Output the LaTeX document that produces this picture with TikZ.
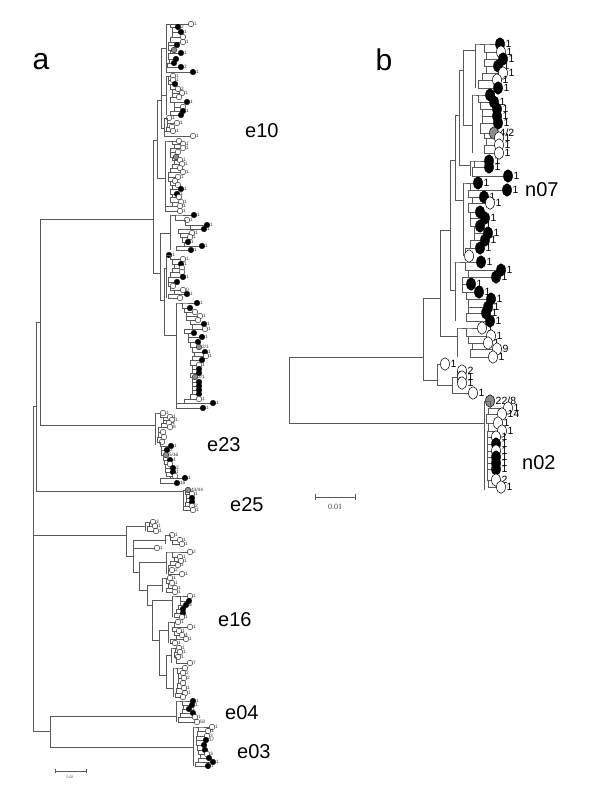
\documentclass[tikz,border=0pt]{standalone}
\usepackage{fontspec}
\setmainfont{Liberation Sans}
\newfontfamily\serifb{Liberation Serif}
\usetikzlibrary{shapes.geometric}
\definecolor{cw}{gray}{1}
\definecolor{cb}{gray}{0}
\definecolor{cg}{gray}{0.55}
\newcommand\grp[4]{%
  \foreach \Lx/\Ly/\Lt/\Ll/\Ls [remember=\Ly as \Lpy (initially #2), remember=\Ls as \Lps (initially #1)] in {#4}{
    \draw[br] (\Lps,\Lpy) -- (\Ls,\Lpy) -- (\Ls,\Ly) -- (\Lx,\Ly);
    \node[#3leaf, fill=\Lt] at (\Lx,\Ly) {};
    \node[#3lab] at (\Lx,\Ly) {\Ll};
  }%
}
\begin{document}
\begin{tikzpicture}[x=1pt,y=-1pt,
  br/.style={draw=black!65, line width=0.55pt},
  aleaf/.style={circle, draw=black, line width=0.35pt, minimum size=5.6pt, inner sep=0pt},
  alab/.style={anchor=west, xshift=2.8pt, inner sep=0pt, font=\fontsize{4.8}{5}\selectfont, text=black!80},
  bleaf/.style={ellipse, draw=black, line width=0.5pt, minimum width=9pt, minimum height=12.5pt, inner sep=0pt},
  blab/.style={anchor=west, xshift=5.5pt, inner sep=0pt, font=\fontsize{10.5}{11}\selectfont},
  clade/.style={anchor=west, inner sep=0pt, font=\fontsize{20}{20}\selectfont},
  panel/.style={inner sep=0pt, font=\fontsize{30}{30}\selectfont}]
\useasboundingbox (0,0) rectangle (600,800);
\fill[white] (0,0) rectangle (600,800);

% ---------------- panel a backbone
\draw[br] (33,406) -- (33,731);
\draw[br] (33,406) -- (36,406);
\draw[br] (36,322) -- (36,491);
\draw[br] (36,322) -- (40,322);
\draw[br] (40,219) -- (40,425);
\draw[br] (40,219) -- (153,219);
\draw[br] (40,425) -- (155,425);
\draw[br] (36,491) -- (183,491);
\draw[br] (33,535) -- (126,535);
\draw[br] (33,731) -- (50,731);
\draw[br] (50,716) -- (50,747);
\draw[br] (50,716) -- (176,716);
\draw[br] (50,747) -- (193,747);

% e10 internal
\draw[br] (153,140) -- (153,273);
\draw[br] (153,140) -- (157,140);
\draw[br] (157,100) -- (157,178);
\draw[br] (157,100) -- (161,100);
\draw[br] (161,48) -- (161,128);
\draw[br] (161,48) -- (166,48);
\draw[br] (161,95) -- (166,95);
\draw[br] (161,128) -- (164,128);
\draw[br] (157,178) -- (165,178);
\draw[br] (166,24) -- (166,72);
\draw[br] (166,76) -- (166,115);
\draw[br] (164,118) -- (164,136);
\draw[br] (165,141) -- (165,211);
\draw[br] (153,273) -- (160,273);
\draw[br] (160,233) -- (160,300);
\draw[br] (160,233) -- (170,233);
\draw[br] (170,215) -- (170,250);
\draw[br] (160,300) -- (164,300);
\draw[br] (164,268) -- (164,335);
\draw[br] (164,268) -- (166,268);
\draw[br] (166,255) -- (166,298);
\draw[br] (164,335) -- (176,335);
\draw[br] (176,303) -- (176,408);

\grp{166}{24}{a}{191/24/cw/1/166, 178/27/cb/2/170, 181/32/cb/1/172, 183/37/cw//172, 183/42/cw/1/170, 177/45/cb//168, 174/50/cg//168, 181/53/cb/1/170, 176/59/cb//168, 174/63/cb//169, 181/67/cb/2/167, 193/72/cb/1/166}
\grp{166}{76}{a}{173/76/cw/1/166, 173/80/cw/1/168, 175/84/cb//168, 178/89/cw/2/170, 182/93/cw/1/172, 179/97/cw//172, 187/102/cb/1/170, 183/107/cw//174, 183/111/cb/1/174, 181/115/cb//170}
\grp{164}{118}{a}{169/118/cw/1/164, 177/123/cw/1/167, 172/127/cw//167, 173/131/cw/1/166, 193/136/cw/1/164}
\grp{165}{141}{a}{179/141/cw//168, 183/144/cw/1/172, 183/148/cw/1/174, 178/152/cw//170, 176/157/cg//170, 180/160/cw/1/172, 182/164/cw/1/174, 180/168/cw//172, 183/172/cw/1/170, 178/177/cw/1/168, 175/181/cw//168, 178/185/cw//170, 181/189/cb/1/172, 177/194/cb/1/170, 179/197/cw//172, 181/202/cw/1/170, 180/206/cw/1/172, 180/211/cw/1/165}
\grp{170}{215}{a}{194/215/cb/1/172, 187/220/cw/1/175, 207/225/cb/1/185, 204/229/cb/1/190, 192/233/cw/1/178, 190/237/cw/1/180, 188/242/cb/1/182, 202/246/cb/1/184, 191/250/cb/1/176}
\grp{166}{255}{a}{169/255/cb/1/166, 183/259/cw/1/170, 181/264/cb/1/172, 182/268/cw//174, 182/272/cw//172, 183/277/cb/1/170, 177/282/cb//168, 173/286/cw//168, 183/290/cw/0/170, 187/294/cb/1/174, 180/298/cw//168}
\grp{176}{303}{a}{197/303/cb/1/180, 190/308/cb//182, 195/312/cw//184, 200/316/cw/1/186, 198/320/cw//186, 204/324/cb/1/190, 205/329/cw/1/192, 194/333/cb//184, 202/337/cb/1/188, 198/342/cb//188, 199/347/cg/{2/1}/190, 205/352/cb/1/192, 206/356/cw/1/194, 202/360/cb//192, 199/365/cw/1/190, 199/369/cb//192, 199/373/cb//192, 195/377/cg/{2/1}/190, 199/382/cb//192, 199/386/cb//192, 199/390/cb//192, 199/394/cb//192, 199/399/cw/1/190, 213/403/cb/1/184, 203/408/cb/1/176}

% e23
\draw[br] (155,413) -- (155,445);
\grp{155}{413}{a}{163/413/cw/1/157, 170/417/cw/1/160, 172/420/cw/1/163, 169/423/cw/1/163, 170/427/cw/8/161, 163/432/cw//158, 164/437/cw//158, 162/442/cw//157, 171/446/cb/1/160, 167/450/cb/2/161, 166/455/cg/{5/16}/161, 170/460/cb/4/163, 170/464/cw//164, 173/468/cb/2/165, 173/472/cb/1/165, 175/476/cw//166, 185/478/cb/1/170, 177/483/cb/16/160}
% e25
\draw[br] (183,490) -- (183,510);
\grp{183}{490}{a}{188/490/cg/{43/44}/183, 192/494/cw/1/185, 192/498/cb//186, 192/502/cb//186, 192/506/cw/2/185, 193/510/cw/1/183}

% e16
\draw[br] (126,526) -- (126,556);
\draw[br] (126,526) -- (145,526);
\draw[br] (145,522) -- (145,531);
\grp{145}{522}{a}{153/522/cw/3/147, 155/526/cw/1/149, 156/531/cw/1/147}
\draw[br] (126,556) -- (133,556);
\draw[br] (133,540) -- (133,572);
\draw[br] (133,540) -- (165,540);
\draw[br] (165,535) -- (165,544);
\grp{165}{535}{a}{172/535/cw/1/166, 180/540/cw/1/170, 182/544/cw/1/172}
\grp{133}{548}{a}{157/548/cw/1/133}
\draw[br] (133,572) -- (139,572);
\draw[br] (139,562) -- (139,590);
\draw[br] (139,562) -- (166,562);
\draw[br] (166,552) -- (166,574);
\grp{166}{552}{a}{190/552/cw/2/172, 180/557/cw/1/172, 181/561/cw/1/174, 178/565/cw/1/170, 172/570/cw/2/168, 182/574/cw/1/168}
\draw[br] (139,590) -- (147,590);
\draw[br] (147,585) -- (147,605);
\draw[br] (147,585) -- (162,585);
\draw[br] (162,578) -- (162,592);
\grp{162}{578}{a}{170/578/cw/1/164, 172/583/cw/1/166, 175/588/cw/1/168, 175/592/cw/1/166}
\draw[br] (147,605) -- (152,605);
\draw[br] (152,600) -- (152,640);
\draw[br] (152,600) -- (172,600);
\draw[br] (172,596) -- (172,617);
\grp{172}{596}{a}{190/596/cw/1/176, 189/601/cb//180, 186/605/cb/6/180, 183/609/cb//178, 183/613/cb//176, 182/617/cw/1/174}
\draw[br] (152,640) -- (159,640);
\draw[br] (159,630) -- (159,675);
\draw[br] (159,630) -- (168,630);
\draw[br] (168,622) -- (168,643);
\grp{168}{622}{a}{178/622/cw/1/170, 190/627/cw/1/174, 179/631/cw/1/172, 182/635/cw/4/174, 186/639/cw/1/176, 175/643/cw/1/170}
\draw[br] (159,675) -- (166,675);
\draw[br] (166,655) -- (166,688);
\draw[br] (166,655) -- (171,655);
\draw[br] (171,648) -- (171,663);
\grp{171}{648}{a}{179/648/cw/1/173, 180/652/cw/1/175, 178/657/cw/1/174, 190/663/cw/7/176}
\draw[br] (166,688) -- (173,688);
\draw[br] (173,668) -- (173,697);
\grp{173}{668}{a}{185/668/cw//176, 183/673/cw/2/177, 184/678/cw/2/178, 183/683/cw//178, 184/688/cw/1/177, 185/693/cw/1/176, 183/697/cw//175}

% e04, e03
\draw[br] (176,701) -- (176,722);
\grp{176}{701}{a}{193/701/cb/1/180, 192/705/cb/1/182, 189/709/cb/1/183, 193/713/cb//182, 195/717/cw/1/180, 197/722/cw/50/178}
\draw[br] (193,727) -- (193,766);
\grp{193}{727}{a}{212/727/cw/1/196, 208/731/cw/1/198, 207/736/cw/3/197, 206/740/cb/17/196, 204/745/cb//196, 205/750/cb//197, 207/754/cw/3/198, 209/758/cb//200, 213/762/cb/1/198, 208/766/cb/1/195}

% scale bar a
\draw[br] (55,771) -- (86,771);
\draw[br] (55,769) -- (55,773);
\draw[br] (86,769) -- (86,773);
\node[inner sep=0pt, font=\fontsize{3.5}{4}\selectfont, text=black!70] at (70,777) {0.02};

% labels a
\node[panel] (pa) at (41,62) {a};
\node[clade] (le10) at (245,131) {e10};
\node[clade] (le23) at (207,445) {e23};
\node[clade] (le25) at (230,505) {e25};
\node[clade] (le16) at (218,620) {e16};
\node[clade] (le04) at (225,713) {e04};
\node[clade] (le03) at (237,752) {e03};

% ---------------- panel b
\draw[br] (289,357) -- (289,423);
\draw[br] (289,357) -- (423,357);
\draw[br] (289,423) -- (484,423);
\draw[br] (423,298) -- (423,380);
\draw[br] (423,298) -- (440,298);
\draw[br] (440,230) -- (440,336);
\draw[br] (440,336) -- (457,336);
\draw[br] (457,328) -- (457,357);
\draw[br] (440,230) -- (450,230);
\draw[br] (450,160) -- (450,290);
\draw[br] (450,290) -- (455,290);
\draw[br] (455,262) -- (455,321);
\draw[br] (450,160) -- (455,160);
\draw[br] (455,115) -- (455,200);
\draw[br] (455,200) -- (463,200);
\draw[br] (463,183) -- (463,256);
\draw[br] (455,115) -- (459,115);
\draw[br] (459,70) -- (459,165);
\draw[br] (459,165) -- (470,165);
\draw[br] (470,161) -- (470,176);
\draw[br] (459,70) -- (463,70);
\draw[br] (463,50) -- (463,125);
\draw[br] (463,50) -- (475,50);
\draw[br] (475,44) -- (475,88);
\draw[br] (463,125) -- (472,125);
\draw[br] (472,95) -- (472,153);
\draw[br] (423,380) -- (437,380);
\draw[br] (437,364) -- (437,385);
\draw[br] (437,385) -- (452,385);
\draw[br] (452,377) -- (452,393);
\draw[br] (452,377) -- (457,377);
\draw[br] (457,371) -- (457,383);
\draw[br] (484,401) -- (484,490);

\grp{457}{328}{b}{482/328/cw/1/462, 491/336/cw/1/466, 488/343/cw/1/468, 497/349/cw/9/472, 493/357/cw/1/470}
\grp{455}{262}{b}{481/262/cb/1/460, 501/270/cb/1/465, 496/277/cb/1/468, 471/284/cb/1/462, 479/292/cb/1/462, 491/299/cb/1/466, 488/307/cb/1/468, 486/313/cb/1/468, 490/321/cb/1/466}
\grp{463}{183}{b}{478/183/cb/1/466, 507/190/cb/1/470, 484/197/cb/1/468, 490/203/cw/1/472, 480/212/cb//468, 485/218/cb/1/470, 480/226/cb/1/470, 488/233/cb/1/474, 485/240/cb/1/474, 480/248/cb/1/470, 469/256/cw//465}
\grp{470}{161}{b}{489/161/cb/1/474, 489/167/cb/1/474, 508/176/cb/1/472}
\grp{475}{44}{b}{500/44/cb/1/480, 501/52/cw/1/484, 503/59/cb/1/486, 498/66/cb/1/484, 503/73/cw/1/486, 497/80/cw/1/482, 498/88/cb/1/478}
\grp{472}{95}{b}{490/95/cb//476, 494/102/cb/1/478, 497/109/cb/1/480, 497/116/cb/1/482, 498/123/cb/1/482, 494/133/cg/{4/2}/480, 499/138/cw/1/484, 499/145/cw/1/486, 499/153/cw/1/484}
\grp{437}{364}{b}{445/364/cw/1/437}
\grp{457}{371}{b}{462/371/cw/2/459, 462/377/cw/1/459, 462/383/cw/1/459}
\grp{452}{393}{b}{473/393/cw/1/452}
\grp{484}{401}{b}{490/401/cg/{22/8}/484, 508/408/cw/1/490, 502/414/cw/14/488, 498/423/cw/1/486, 502/431/cw/1/488, 496/437/cw/1/487, 496/444/cb/1/487, 496/451/cw/1/487, 496/457/cb/1/487, 496/463/cb/1/487, 496/469/cb/1/487, 496/480/cw/2/487, 501/487/cw/1/488}

% scale bar b
\draw[br] (315,497) -- (355,497);
\draw[br] (315,494) -- (315,500);
\draw[br] (355,494) -- (355,500);
\node[inner sep=0pt, font=\serifb\fontsize{8}{8}\selectfont, text=black!75] at (335,507) {0.01};

% labels b
\node[panel] (pb) at (384,60) {b};
\node[clade] (ln07) at (525,190) {n07};
\node[clade] (ln02) at (522,463) {n02};
\end{tikzpicture}
\end{document}
